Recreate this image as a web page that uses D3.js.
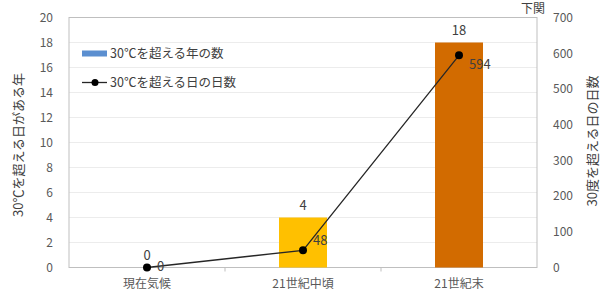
<!DOCTYPE html>
<meta charset="utf-8">
<style>
body, html { margin: 0; background: #fff; }
text { font-family: "Noto Sans CJK JP", sans-serif; }
.axis text { fill: #595959; font-size: 12px; }
.axis path, .axis line { stroke: #bfbfbf; }
.grid line { stroke: #ececec; }
</style>
<svg></svg>
<script src="https://d3js.org/d3.v7.min.js"></script>
<script>

var categories = ['現在気候', '21世紀中頃', '21世紀末'];
var yearCounts = [0, 4, 18];       // 30℃を超える年の数
var dayCounts = [0, 48, 594];      // 30℃を超える日の日数
var barColors = ['#ffc000', '#ffc000', '#d26b00'];
var leftTicks = [0, 2, 4, 6, 8, 10, 12, 14, 16, 18, 20];
var rightTicks = [0, 100, 200, 300, 400, 500, 600, 700];

var W = 612, H = 294;
var margin = {top: 17.5, right: 75, bottom: 26.5, left: 69};
var width = W - margin.left - margin.right;
var height = H - margin.top - margin.bottom;

var svg = d3.select('svg').attr('width', W).attr('height', H);
var g = svg.append('g').attr('transform', 'translate(' + margin.left + ',' + margin.top + ')');

var x = d3.scaleBand().domain(categories).range([0, width]);
var yL = d3.scaleLinear().domain([0, 20]).range([height, 0]);
var yR = d3.scaleLinear().domain([0, 700]).range([height, 0]);

// gridlines
g.append('g').attr('class', 'grid')
  .selectAll('line').data(leftTicks.slice(1)).enter().append('line')
  .attr('x1', 0).attr('x2', width)
  .attr('y1', d => yL(d)).attr('y2', d => yL(d));

// frame
g.append('rect').attr('width', width).attr('height', height)
  .attr('fill', 'none').attr('stroke', '#bfbfbf');

// bars
var bw = 48;
g.selectAll('.bar').data(yearCounts).enter().append('rect')
  .attr('x', (d, i) => x(categories[i]) + x.bandwidth() / 2 - bw / 2)
  .attr('y', d => yL(d))
  .attr('width', bw)
  .attr('height', d => height - yL(d))
  .attr('fill', (d, i) => barColors[i]);

// bar labels
g.selectAll('.blab').data(yearCounts).enter().append('text')
  .attr('x', (d, i) => x(categories[i]) + x.bandwidth() / 2)
  .attr('y', d => yL(d) - 8)
  .attr('text-anchor', 'middle')
  .attr('font-size', 13).attr('fill', '#404040')
  .text(d => d);

// axes
var axL = g.append('g').attr('class', 'axis')
  .call(d3.axisLeft(yL).tickValues(leftTicks).tickSize(0).tickPadding(16));
axL.select('.domain').remove();

var axR = g.append('g').attr('class', 'axis')
  .attr('transform', 'translate(' + width + ',0)')
  .call(d3.axisRight(yR).tickValues(rightTicks).tickSize(0).tickPadding(16));
axR.select('.domain').remove();

var axB = g.append('g').attr('class', 'axis')
  .attr('transform', 'translate(0,' + height + ')')
  .call(d3.axisBottom(x).tickSize(0).tickPadding(12));
axB.select('.domain').remove();
axB.selectAll('text').attr('font-size', 11);

// category boundary ticks
g.selectAll('.ctick').data(categories.slice(1)).enter().append('line')
  .attr('x1', d => x(d)).attr('x2', d => x(d))
  .attr('y1', height).attr('y2', height + 4)
  .attr('stroke', '#bfbfbf');

// line series
var line = d3.line()
  .x((d, i) => x(categories[i]) + x.bandwidth() / 2)
  .y(d => yR(d));
g.append('path').datum(dayCounts)
  .attr('d', line).attr('fill', 'none')
  .attr('stroke', '#262626').attr('stroke-width', 1.3);
g.selectAll('.dot').data(dayCounts).enter().append('circle')
  .attr('cx', (d, i) => x(categories[i]) + x.bandwidth() / 2)
  .attr('cy', d => yR(d)).attr('r', 4).attr('fill', '#000');

var dayOff = [[10, 3], [10, -5], [10, 14]];
g.selectAll('.dlab').data(dayCounts).enter().append('text')
  .attr('x', (d, i) => x(categories[i]) + x.bandwidth() / 2 + dayOff[i][0])
  .attr('y', (d, i) => yR(d) + dayOff[i][1])
  .attr('font-size', 13).attr('fill', '#404040')
  .text(d => d);

// legend
var lg = g.append('g').attr('transform', 'translate(13,36)');
lg.append('rect').attr('x', 0).attr('y', -3).attr('width', 25).attr('height', 6).attr('fill', '#5b8fd0');
lg.append('text').attr('x', 28).attr('y', 4.5).attr('font-size', 12.5).attr('fill', '#404040')
  .text('30℃を超える年の数');
lg.append('line').attr('x1', 0).attr('x2', 25).attr('y1', 29).attr('y2', 29).attr('stroke', '#262626').attr('stroke-width', 1.3);
lg.append('circle').attr('cx', 13).attr('cy', 29).attr('r', 3.5).attr('fill', '#000');
lg.append('text').attr('x', 28).attr('y', 33.5).attr('font-size', 12.5).attr('fill', '#404040')
  .text('30℃を超える日の日数');

// axis titles
svg.append('text')
  .attr('transform', 'translate(23,145) rotate(-90)')
  .attr('text-anchor', 'middle').attr('font-size', 13).attr('fill', '#404040')
  .text('30℃を超える日がある年');
svg.append('text')
  .attr('transform', 'translate(597,141) rotate(-90)')
  .attr('text-anchor', 'middle').attr('font-size', 13).attr('fill', '#404040')
  .text('30度を超える日の日数');

// station name
svg.append('text').attr('x', 533).attr('y', 13)
  .attr('text-anchor', 'middle').attr('font-size', 12).attr('fill', '#404040')
  .text('下関');

</script>
